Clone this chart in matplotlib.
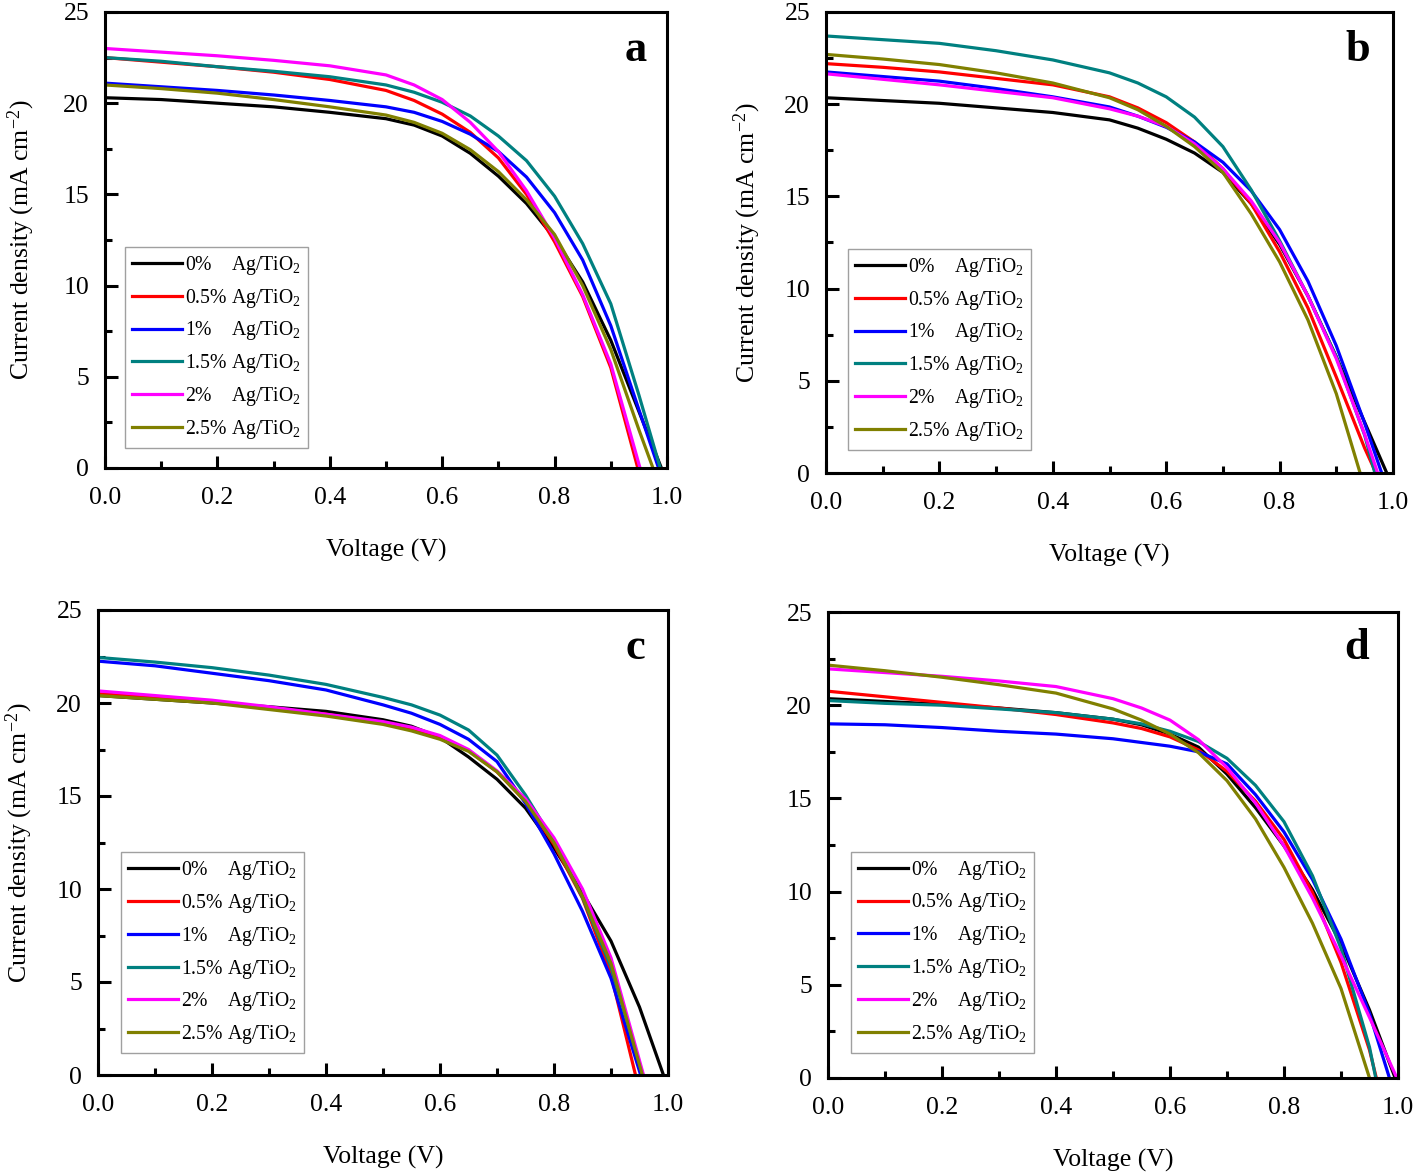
import matplotlib
matplotlib.use("Agg")
import matplotlib.pyplot as plt
from matplotlib.ticker import MultipleLocator

plt.rcParams['font.family'] = ['Liberation Serif', 'DejaVu Serif']
plt.rcParams['mathtext.fontset'] = 'custom'
plt.rcParams['mathtext.rm'] = 'Liberation Serif'
plt.rcParams['mathtext.it'] = 'Liberation Serif:italic'
plt.rcParams['mathtext.bf'] = 'Liberation Serif:bold'

# ---------------- data ----------------
V_GRID = [0.0, 0.1, 0.2, 0.3, 0.4, 0.5, 0.55, 0.6, 0.65, 0.7, 0.75, 0.8, 0.85, 0.9, 0.95]

labels = ['0%    Ag/TiO$_2$', '0.5% Ag/TiO$_2$', '1%    Ag/TiO$_2$',
          '1.5% Ag/TiO$_2$', '2%    Ag/TiO$_2$', '2.5% Ag/TiO$_2$']
colors = ['#000000', '#FF0000', '#0000FF', '#008080', '#FF00FF', '#808000']

# panel a
a_J = [
    [20.3, 20.2, 20.0, 19.8, 19.5, 19.15, 18.8, 18.2, 17.25, 16.0, 14.5, 12.6, 10.2, 7.0, 3.1],
    [22.5, 22.25, 22.0, 21.7, 21.3, 20.7, 20.15, 19.4, 18.4, 17.0, 15.0, 12.4, 9.4, 5.5],
    [21.1, 20.9, 20.7, 20.45, 20.15, 19.8, 19.5, 19.0, 18.3, 17.35, 15.95, 14.0, 11.4, 7.8, 3.2],
    [22.5, 22.3, 22.0, 21.75, 21.45, 21.0, 20.6, 20.05, 19.3, 18.2, 16.85, 14.9, 12.3, 9.0, 4.0],
    [23.0, 22.8, 22.6, 22.35, 22.05, 21.55, 21.0, 20.2, 18.95, 17.35, 15.2, 12.6, 9.5, 5.7],
    [21.0, 20.8, 20.55, 20.2, 19.8, 19.35, 18.95, 18.35, 17.45, 16.25, 14.7, 12.8, 10.0, 6.5, 2.1],
]
a_Voc = [0.99, 0.948, 0.985, 0.988, 0.952, 0.975]

# panel b
b_J = [
    [20.35, 20.2, 20.05, 19.8, 19.55, 19.15, 18.7, 18.1, 17.35, 16.3, 14.6, 12.4, 9.6, 6.3, 2.75],
    [22.2, 22.0, 21.75, 21.4, 21.05, 20.4, 19.8, 19.0, 17.95, 16.5, 14.6, 12.0, 8.95, 5.2, 1.35],
    [21.75, 21.5, 21.25, 20.85, 20.4, 19.85, 19.35, 18.75, 17.95, 16.85, 15.3, 13.2, 10.4, 6.9, 2.7],
    [23.7, 23.5, 23.3, 22.9, 22.4, 21.7, 21.15, 20.4, 19.3, 17.7, 15.35, 12.6, 9.6, 6.3, 2.05],
    [21.65, 21.35, 21.05, 20.7, 20.35, 19.75, 19.35, 18.8, 17.85, 16.5, 14.75, 12.5, 9.6, 6.2, 2.1],
    [22.7, 22.45, 22.15, 21.7, 21.15, 20.35, 19.7, 18.8, 17.7, 16.3, 14.05, 11.45, 8.3, 4.3],
]
b_Voc = [0.989, 0.97, 0.98, 0.968, 0.973, 0.942]

# panel c
c_J = [
    [20.4, 20.2, 20.0, 19.8, 19.55, 19.1, 18.75, 18.15, 17.1, 15.9, 14.35, 12.2, 9.8, 7.2, 3.65],
    [20.5, 20.3, 20.05, 19.75, 19.4, 18.9, 18.6, 18.2, 17.45, 16.3, 14.7, 12.4, 9.5, 5.4],
    [22.25, 22.0, 21.6, 21.2, 20.7, 19.9, 19.45, 18.85, 18.05, 16.85, 14.6, 11.9, 8.8, 5.2],
    [22.45, 22.2, 21.9, 21.5, 21.0, 20.3, 19.9, 19.35, 18.55, 17.2, 15.05, 12.55, 9.55, 5.8],
    [20.65, 20.4, 20.15, 19.8, 19.4, 19.0, 18.7, 18.25, 17.5, 16.35, 14.85, 12.75, 10.0, 6.3],
    [20.4, 20.2, 20.0, 19.65, 19.3, 18.85, 18.5, 18.05, 17.4, 16.3, 14.7, 12.5, 9.6, 6.0],
]
c_Voc = [0.992, 0.943, 0.952, 0.956, 0.957, 0.955]

# panel d
d_J = [
    [20.35, 20.2, 20.05, 19.85, 19.6, 19.25, 18.95, 18.45, 17.75, 16.3, 14.5, 12.45, 10.1, 7.2, 3.65],
    [20.75, 20.45, 20.15, 19.85, 19.5, 19.05, 18.75, 18.3, 17.6, 16.45, 14.85, 12.8, 9.95, 6.2, 1.5],
    [19.0, 18.95, 18.8, 18.6, 18.45, 18.2, 18.0, 17.8, 17.5, 16.85, 15.2, 13.2, 10.65, 7.45, 3.45],
    [20.25, 20.1, 20.0, 19.8, 19.6, 19.25, 19.0, 18.6, 18.05, 17.15, 15.7, 13.75, 10.85, 6.95, 1.65],
    [21.95, 21.75, 21.55, 21.3, 21.0, 20.35, 19.85, 19.2, 18.15, 16.65, 14.75, 12.45, 9.65, 6.55, 3.25],
    [22.15, 21.85, 21.5, 21.1, 20.65, 19.8, 19.2, 18.45, 17.45, 15.95, 13.9, 11.3, 8.3, 4.8],
]
d_Voc = [0.995, 0.962, 0.985, 0.961, 0.998, 0.95]

panel_letters = ['a', 'b', 'c', 'd']
x_ticks = [0.0, 0.2, 0.4, 0.6, 0.8, 1.0]
y_ticks = [0, 5, 10, 15, 20, 25]

# ---------------- layout ----------------
W, H = 1418, 1174
fig = plt.figure(figsize=(W / 100, H / 100), dpi=100)

def px_axes(l, r, t, b):
    return fig.add_axes([l / W, 1 - b / H, (r - l) / W, (b - t) / H])

axes_px = [(105, 667, 12, 468), (826, 1393, 12, 473),
           (98, 668, 610, 1075), (828, 1398, 612, 1078)]
leg_anchor = [(0.036, 0.044), (0.039, 0.05), (0.04, 0.047), (0.04, 0.054)]
letter_pos = [(0.945, 0.917), (0.937, 0.918), (0.942, 0.918), (0.928, 0.923)]
ylabel_pad = [19, 15, 15, None]

panels = [(a_J, a_Voc), (b_J, b_Voc), (c_J, c_Voc), (d_J, d_Voc)]

FS = 18.5
for i, (Js, Vocs) in enumerate(panels):
    ax = px_axes(*axes_px[i])
    for J, voc, lab, col in zip(Js, Vocs, labels, colors):
        x = V_GRID[:len(J)] + [voc]
        y = J + [0.0]
        ax.plot(x, y, color=col, lw=2.3, label=lab, solid_joinstyle='round')
    ax.set_xlim(0, 1.0)
    ax.set_ylim(0, 25)
    ax.set_xticks(x_ticks)
    ax.set_xticklabels([f'{v:.1f}' for v in x_ticks])
    ax.set_yticks(y_ticks)
    ax.xaxis.set_minor_locator(MultipleLocator(0.1))
    ax.yaxis.set_minor_locator(MultipleLocator(2.5))
    ax.tick_params(which='both', direction='in', top=False, right=False,
                   width=2.2, labelsize=FS)
    ax.tick_params(which='major', length=9)
    ax.tick_params(which='minor', length=5)
    ax.tick_params(axis='x', which='major', pad=14)
    ax.tick_params(axis='y', which='major', pad=11.5)
    for sp in ax.spines.values():
        sp.set_linewidth(2.2)
    ax.set_xlabel('Voltage (V)', fontsize=FS, labelpad=21)
    if ylabel_pad[i] is not None:
        ax.set_ylabel('Current density (mA cm$^{-2}$)', fontsize=FS,
                      labelpad=ylabel_pad[i])
    ax.text(letter_pos[i][0], letter_pos[i][1], panel_letters[i],
            transform=ax.transAxes, fontsize=32, fontweight='bold',
            ha='center', va='center')
    leg = ax.legend(loc='lower left', bbox_to_anchor=leg_anchor[i],
                    borderaxespad=0, fontsize=14.2, frameon=True, fancybox=False,
                    edgecolor='#888888', handlelength=2.55, handletextpad=0.15,
                    labelspacing=0.5, borderpad=0.35)
    leg.get_frame().set_linewidth(1.0)
    for ln in leg.get_lines():
        ln.set_linewidth(2.3)

fig.savefig('out.png', dpi=100)
